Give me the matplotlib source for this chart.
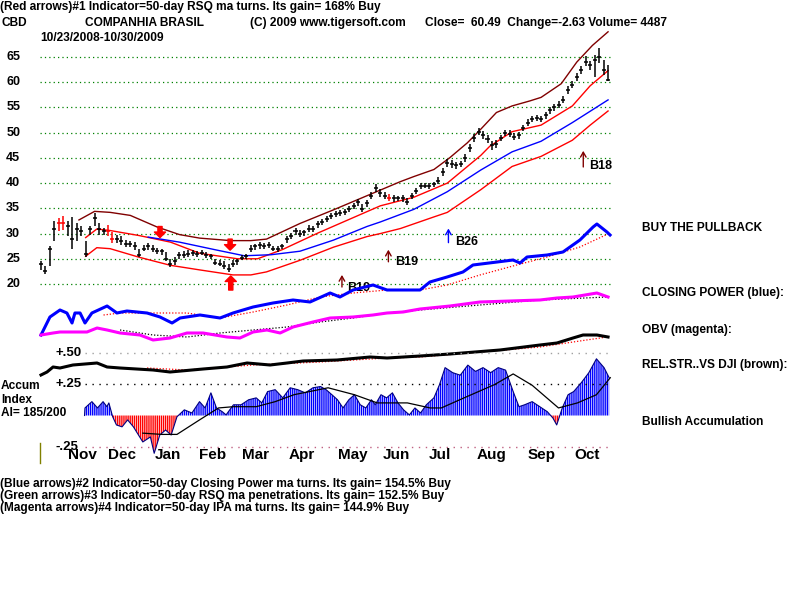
import matplotlib
matplotlib.use("Agg")
import matplotlib.pyplot as plt
from matplotlib.lines import Line2D
import numpy as np

# -----------------------------
# Data (trading-day index from 10/23/2008)
# -----------------------------
bar_day = list(range(0, 256, 2))

close = [24, 22.5, 27, 31, 32, 32, 31.5, 29, 31, 30.5,
         26, 31, 33, 31, 30.5, 30.5, 29, 29, 28.5, 28,
         28, 27.5, 25.8, 27, 27.5, 27, 26.5, 26.5, 25, 24,
         24.5, 25.8, 25.8, 26, 26.2, 26, 26.2, 25.8, 25.5, 24.2,
         24, 23.5, 23, 24, 24.5, 25.2, 25.5, 27, 27.5, 27.8,
         27.5, 27.8, 27, 27, 27.5, 29, 29.5, 30.5, 30, 30.3,
         31, 31, 31.8, 32.2, 32.8, 33.5, 33.8, 34, 34.3, 34.8,
         35.5, 36.2, 34.8, 36, 37.5, 39, 38, 37.5, 37, 37,
         37, 37, 36.3, 37.5, 38.5, 39.5, 39.5, 39.5, 39.8, 40.5,
         42.3, 44, 43.8, 43.5, 43.8, 45, 47, 49, 50.2, 49.5,
         48.8, 47.5, 47.8, 49, 50, 49.8, 49.2, 49.5, 51, 52,
         52.8, 53, 52.8, 53.5, 54.5, 55, 55.5, 56.5, 58.5, 59.5,
         61, 62.5, 64, 63.5, 64.5, 65, 62.5, 60.5]
high = [24.5, 23.5, 27.5, 32.5, 33, 33.5, 32.5, 33.2, 32, 31.5,
        28.5, 31.5, 34, 32, 31.2, 31.6, 30.3, 29.8, 29.5, 28.8,
        28.6, 28.3, 27, 27.8, 28.2, 27.8, 27.2, 27, 26.3, 25,
        25.3, 26.3, 26.5, 26.7, 26.7, 26.5, 26.8, 26.3, 26, 25,
        24.7, 24.5, 24, 24.7, 25, 25.8, 26, 27.7, 28, 28.3,
        28.2, 28.4, 27.6, 27.5, 28, 29.6, 30.2, 31.2, 30.7, 30.8,
        31.6, 31.5, 32.4, 32.8, 33.4, 34, 34.4, 34.6, 34.8, 35.4,
        36, 36.8, 35.8, 36.6, 38.2, 39.8, 38.8, 38.2, 37.8, 37.6,
        37.5, 37.6, 37, 38, 39, 40, 40.1, 40, 40.3, 41.2,
        43, 44.8, 44.5, 44.2, 44.4, 45.7, 47.7, 49.7, 51, 50.3,
        49.5, 48.3, 48.5, 49.6, 50.6, 50.5, 49.9, 50.2, 51.6, 52.7,
        53.4, 53.6, 53.4, 54.1, 55.1, 55.6, 56.2, 57.3, 59.3, 60.3,
        61.8, 63.3, 65.2, 64.3, 65.5, 66.8, 64.5, 63.5]
low = [22.8, 22, 23.5, 28.5, 30.5, 30.8, 29.5, 27, 28.5, 29.5,
       25.3, 29.8, 31.5, 29.8, 29.8, 29.6, 28.2, 28.2, 27.8, 27.3,
       27.4, 26.8, 25.3, 26.5, 26.8, 26.3, 26, 25.8, 24.6, 23.3,
       23.8, 25, 25.2, 25.4, 25.6, 25.4, 25.7, 25.2, 25, 23.8,
       23.5, 23, 22.3, 23.3, 23.8, 24.7, 25, 26.3, 26.8, 27,
       27, 27.2, 26.5, 26.4, 26.9, 28.2, 29, 29.8, 29.3, 29.6,
       30.3, 30.4, 31.2, 31.6, 32.2, 32.8, 33.2, 33.4, 33.6, 34.2,
       34.8, 35.5, 34.2, 35.3, 36.8, 38.2, 37.3, 36.8, 36.4, 36.3,
       36.4, 36.2, 35.7, 36.8, 37.8, 38.8, 39, 38.9, 39.2, 39.8,
       41.5, 43.2, 43, 42.8, 43.2, 44.2, 46.2, 48.2, 49.5, 48.8,
       48, 46.6, 47, 48.3, 49.3, 49.1, 48.5, 48.8, 50.3, 51.3,
       52.1, 52.4, 52.1, 52.8, 53.8, 54.3, 54.8, 55.8, 57.7, 58.8,
       60.2, 61.7, 63.2, 62.5, 61, 63.8, 61.5, 60.2]
red_bars = [4, 5, 15, 16, 78]

# bands around price
upper_day = [17, 24, 31, 40, 52, 62, 71, 85, 94, 101, 116, 131, 146, 161, 167, 176,
             183, 191, 197, 204, 211, 219, 224, 233, 240, 247, 254]
upper_val = [32.7, 34.4, 34.2, 33.6, 31.3, 29.8, 29.1, 28.6, 28.6, 28.9, 32, 34.7, 37.5,
             40.3, 41.3, 42.7, 45, 48, 50.7, 54, 55.3, 56.3, 57, 59.7, 64, 67.3, 70]
mid_day = [20, 25, 31, 44, 58, 71, 88, 97, 108, 124, 138, 152, 167, 182, 197, 201, 211,
           224, 238, 246, 254]
mid_val = [29.2, 30.9, 30.6, 29.6, 28.3, 26.1, 25, 25, 26.8, 30.1, 32.8, 35.5, 37.2, 40,
           45.5, 47.3, 50.2, 51.5, 55.3, 59.3, 62.3]
ma_day = [48, 62, 79, 91, 103, 116, 131, 146, 152, 167, 182, 197, 211, 224, 238, 254]
ma_val = [29.3, 28.3, 26.7, 25.6, 25.8, 26.5, 28.7, 31.4, 32.3, 34.8, 38.3, 42.6, 46.2,
          48.3, 52, 56.5]
lower_day = [20, 25, 31, 44, 58, 71, 86, 94, 101, 116, 131, 146, 152, 161, 176, 182, 197,
             211, 224, 238, 246, 254]
lower_val = [25.5, 27.2, 27, 25.3, 23.7, 22.8, 21.8, 21.8, 22.4, 24.7, 27.3, 29.4, 30, 31,
             33.3, 34.2, 38.7, 43.3, 45.3, 48.5, 51.5, 54.3]

# closing power and its ma
cp_day = [0, 4, 8.5, 11.6, 13.9, 15.2, 17.5, 19.7, 22.8, 29.6, 34, 38.5, 47.5, 53.3,
          58.7, 62.3, 71.2, 80.2, 86, 95, 103.9, 112.9, 120.5, 129.5, 133.9, 139.8,
          148.7, 155, 162.2, 169.8, 174.2, 181.9, 189, 193.5, 204.3, 211.4, 214.6,
          217.7, 226.7, 233.8, 241.4, 247.3, 249, 253.5, 254.9]
cp_val = [5, 23, 30, 27, 17, 27, 27, 17, 27, 34, 27, 29, 27, 23, 17, 22, 25, 22, 27, 33,
          37, 40, 38, 47, 43, 50, 55, 50, 50, 50, 58, 63, 68, 75, 78, 80, 77, 83, 85, 88,
          100, 113, 116, 108, 105]
cpma_day = [28, 35.4, 50.2, 65.4, 80.2, 95, 110.2, 125, 139.8, 155, 169.8, 181.9, 196.6,
            211.4, 226.7, 241.4, 254.9]
cpma_val = [25, 27, 27, 27, 22, 28, 35, 43, 47, 50, 50, 55, 65, 74, 83, 93, 107]

# on balance volume and its ma
obv_day = [0, 5.4, 8.5, 20.6, 25.1, 29.6, 35.4, 44.3, 50.2, 57.8, 65.4, 72.6, 83.3,
           89.1, 95, 101.2, 107.1, 112.9, 121.8, 129.5, 139.8, 148.7, 155, 162.2, 169.8,
           183.2, 196.6, 210.1, 223.5, 231.1, 238.3, 249, 254]
obv_val = [5, 7, 8, 8, 12, 10, 7, 5, 0, 2, 7, 7, 3, 2, 8, 10, 7, 13, 18, 22, 23, 25, 27,
           28, 31, 34, 38, 39, 40, 42, 43, 47, 43]
obvma_day = [35.4, 50.2, 65.4, 80.2, 95, 110.2, 125, 139.8, 155, 169.8, 196.6, 223.5, 253.5]
obvma_val = [10, 5, 3, 7, 10, 13, 18, 22, 27, 30, 35, 40, 43]

# relative strength vs DJI and its ma
rs_day = [0, 2.7, 5.4, 8.5, 14.3, 25.1, 29.6, 35.4, 50.2, 57.8, 72.6, 83.3, 92.3, 102.6,
          110.2, 117.4, 132.6, 147.4, 155, 169.8, 183.2, 205.6, 223.5, 231.1, 238.3,
          242.8, 249, 254]
rs_val = [25, 28, 33, 32, 35, 37, 33, 32, 30, 28, 31, 33, 37, 35, 37, 39, 40, 43, 42, 44,
          46, 50, 55, 57, 62, 65, 65, 63]
rsma_day = [47.5, 65.4, 95, 125, 155, 169.8, 196.6, 223.5, 238.3, 253.5]
rsma_val = [32, 30, 35, 38, 42, 43, 48, 53, 58, 63]

# accumulation index
ai_day = [19.5, 19.7, 22.8, 25.3, 27.8, 29.5, 30.4, 32.1, 33.8, 36.3, 38.8, 41.4, 45.6,
          49, 50.7, 53.2, 55.8, 58.3, 60.9, 64.2, 67.6, 71, 73.5, 76.1, 78.6, 81.2, 82.9,
          86.2, 89.6, 93, 96.4, 98.9, 101.5, 104.9, 108.3, 111.6, 115, 118.4, 121.8,
          125.2, 127.7, 130.3, 132.8, 135.3, 137.9, 140.4, 143, 145.5, 148, 149.7,
          152.3, 154.8, 157.4, 159.9, 162.4, 165, 167.5, 170, 172.6, 176, 178.5, 181,
          184.4, 187.8, 191.2, 194.6, 198, 201.4, 204.8, 208.1, 211.5, 214.1, 216.6,
          220, 223.4, 226.8, 229.3, 231, 233.5, 236.1, 238.6, 242, 245.4, 248.8, 252.2,
          254.5]
ai_val = [0, 0.06, 0.11, 0.06, 0.11, 0.07, 0.10, -0.01, -0.075, -0.09, -0.035, -0.09,
          -0.21, -0.17, -0.30, -0.155, -0.115, -0.155, -0.01, 0.045, 0.02, 0.11, 0.06,
          0.18, 0.06, 0.03, 0.005, 0.085, 0.085, 0.125, 0.14, 0.10, 0.19, 0.205, 0.14,
          0.22, 0.205, 0.18, 0.22, 0.23, 0.205, 0.165, 0.125, 0.06, 0.125, 0.165, 0.085,
          0.06, 0.125, 0.085, 0.165, 0.14, 0.18, 0.10, 0.045, 0.005, 0.06, 0.02, 0.085,
          0.14, 0.245, 0.38, 0.34, 0.32, 0.40, 0.35, 0.38, 0.34, 0.38, 0.36, 0.19, 0.07,
          0.085, 0.11, 0.07, 0.03, -0.02, -0.075, 0.06, 0.165, 0.19, 0.26, 0.34, 0.45,
          0.38, 0.30]
aima_day = [45.6, 54.1, 60.9, 71, 79.5, 86.2, 96.4, 104.9, 113.3, 128.6, 140.4, 150.6,
            164.1, 174.3, 179.3, 189.5, 203.1, 211.5, 220, 231.8, 240.3, 248.8, 255]
aima_val = [-0.14, -0.15, -0.15, -0.035, 0.06, 0.07, 0.07, 0.11, 0.165, 0.22, 0.165,
            0.10, 0.10, 0.06, 0.06, 0.14, 0.245, 0.33, 0.24, 0.06, 0.10, 0.165, 0.30]

price_ticks = [20, 25, 30, 35, 40, 45, 50, 55, 60, 65]
month_names = ["Nov", "Dec", "Jan", "Feb", "Mar", "Apr", "May", "Jun", "Jul", "Aug",
               "Sep", "Oct"]
month_pos = [18.4, 36.1, 56.7, 77, 96.1, 116.9, 139.6, 159, 178.5, 201.6, 224.2, 244.6]

# -----------------------------
# Styling
# -----------------------------
NARROW = ["Liberation Sans", "DejaVu Sans"]
WIDE = ["Liberation Sans", "DejaVu Sans"]
DARKRED = "#800000"
plt.rcParams["hatch.linewidth"] = 1.0

W, H = 800, 600
fig = plt.figure(figsize=(8, 6), dpi=100)
fig.patch.set_facecolor("white")


def fxy(x, y):
    """pixel position -> figure fraction"""
    return x / W, 1 - y / H


def ftext(x, y, s, size=8.6, family=None, **kw):
    fx, fy = fxy(x, y)
    fig.text(fx, fy, s, fontsize=size, fontweight="bold",
             family=family or NARROW, va="center", ha=kw.pop("ha", "left"), **kw)


# main axes: pixel box x 30..620, y 20..462
ax = fig.add_axes([30 / W, (H - 462) / H, 590 / W, 442 / H])
ax.set_xlim(-4.93, 259.35)
ax.set_ylim(-15.29, 72.34)
ax.axis("off")


def overlay(ylim):
    a = ax.twinx()
    a.set_ylim(*ylim)
    a.axis("off")
    return a


ax_rs = overlay((-62, 380))
ax_ind = overlay((-122, 320))
ax_ai = overlay((-0.369, 3.139))

# price gridlines
ax.hlines(price_ticks, -0.45, 255, colors="#008000", linestyles=(0, (1, 2.5)), lw=0.9)

# bands
ax.plot(upper_day, upper_val, color=DARKRED, lw=1)
ax.plot(mid_day, mid_val, color="#ff0000", lw=1)
ax.plot(ma_day, ma_val, color="#0000ff", lw=1)
ax.plot(lower_day, lower_val, color="#ff0000", lw=1)

# price bars
for k, (d, h, l, c) in enumerate(zip(bar_day, high, low, close)):
    col = "#ff0000" if k in red_bars else "black"
    ax.vlines(d, l, h, color=col, lw=1.1)
    ax.hlines(c, d - 0.9, d + 0.9, color=col, lw=1.1)

# signal arrows (thick red)
red_kw = dict(facecolor="#ff0000", edgecolor="#ff0000", width=3, headwidth=8, headlength=4)
ax.annotate("", xy=(53.3, 29.2), xytext=(53.3, 31.4), arrowprops=red_kw)
ax.annotate("", xy=(84.7, 26.7), xytext=(84.7, 28.9), arrowprops=red_kw)
ax.annotate("", xy=(85, 21.6), xytext=(85, 18.8), arrowprops=red_kw)

# thin buy arrows with labels
for d, tip, tail, col, lab, tx, ty in [
        (134.8, 21.8, 19.4, DARKRED, "B19", 137, 19.2),
        (155.6, 26.8, 24.4, DARKRED, "B19", 158.5, 24.3),
        (182.5, 31.0, 28.2, "#0000ff", "B26", 185.5, 28.3),
        (242.9, 46.4, 43.2, DARKRED, "B18", 245.3, 43.4)]:
    ax.annotate("", xy=(d, tip), xytext=(d, tail),
                arrowprops=dict(arrowstyle="->,head_length=0.35,head_width=0.2",
                                color=col, lw=1, shrinkA=0, shrinkB=0))
    ax.text(tx, ty, lab, fontsize=9, fontweight="bold", family=WIDE, va="center")

# closing power, OBV
ax_ind.plot(cpma_day, cpma_val, color="#ff0000", lw=0.9, ls=(0, (1, 1.5)))
ax_ind.plot(cp_day, cp_val, color="#0000ff", lw=2.2)
ax_ind.plot(obvma_day, obvma_val, color="black", lw=0.9, ls=(0, (1, 1.5)))
ax_ind.plot(obv_day, obv_val, color="#ff00ff", lw=2.2)

# relative strength
ax_rs.plot(rsma_day, rsma_val, color="#ff0000", lw=0.9, ls=(0, (1, 1.5)))
ax_rs.plot(rs_day, rs_val, color="black", lw=2.2)

# accumulation index
ai_x = np.array(ai_day)
ai_y = np.array(ai_val)
ax_ai.hlines(0.5, 19.7, 255, colors="#a0a0a0", linestyles=(0, (1, 4)), lw=1)
ax_ai.hlines(0.25, 19.7, 255, colors="black", linestyles=(0, (1, 4)), lw=1)
ax_ai.hlines(-0.25, 19.7, 255, colors="#c06080", linestyles=(0, (1, 4)), lw=1)
ax_ai.fill_between(ai_x, 0, ai_y, where=ai_y >= 0, interpolate=True, facecolor="none",
                   edgecolor="#0000ff", hatch="|" * 8, linewidth=0)
ax_ai.fill_between(ai_x, 0, ai_y, where=ai_y <= 0, interpolate=True, facecolor="none",
                   edgecolor="#ff0000", hatch="|" * 8, linewidth=0)
ax_ai.plot(ai_x, ai_y, color="#000080", lw=0.8)
ax_ai.plot(aima_day, aima_val, color="black", lw=0.9)

# month labels
for name, pos in zip(month_names, month_pos):
    ax_ai.text(pos, -0.31, name, fontsize=11, fontweight="bold", family=WIDE,
               ha="center", va="center")

# price scale labels
for p in price_ticks:
    ax.text(-15.6, p, str(p), fontsize=9, fontweight="bold", family=WIDE,
            ha="left", va="center")

for v, s in [(0.5, "+.50"), (0.25, "+.25"), (-0.25, "-.25")]:
    ax_ai.text(6.3, v, s, fontsize=9.5, fontweight="bold", family=WIDE,
               ha="left", va="center")

fig.add_artist(Line2D([39.5 / W, 39.5 / W], [1 - 443 / H, 1 - 463 / H],
                      color="#808000", lw=1))

# -----------------------------
# Header / side / footer texts
# -----------------------------
ftext(0, 7, "(Red arrows)#1 Indicator=50-day RSQ ma turns. Its gain= 168% Buy")
ftext(2, 23, "CBD")
ftext(85, 23, "COMPANHIA BRASIL")
ftext(250, 23, "(C) 2009 www.tigersoft.com")
ftext(425, 23, "Close=  60.49  Change=-2.63 Volume= 4487")
ftext(40, 38, "10/23/2008-10/30/2009")

ftext(642, 228, "BUY THE PULLBACK")
ftext(642, 293, "CLOSING POWER (blue):")
ftext(642, 330, "OBV (magenta):")
ftext(642, 365, "REL.STR..VS DJI (brown):")
ftext(642, 422, "Bullish Accumulation")

ftext(1, 386, "Accum")
ftext(1, 400, "Index")
ftext(1, 413, "AI= 185/200")

ftext(0, 484, "(Blue arrows)#2 Indicator=50-day Closing Power ma turns. Its gain= 154.5% Buy")
ftext(0, 496, "(Green arrows)#3 Indicator=50-day RSQ ma penetrations. Its gain= 152.5% Buy")
ftext(0, 508, "(Magenta arrows)#4 Indicator=50-day IPA ma turns. Its gain= 144.9% Buy")

fig.savefig("out.png", dpi=100, facecolor="white")
